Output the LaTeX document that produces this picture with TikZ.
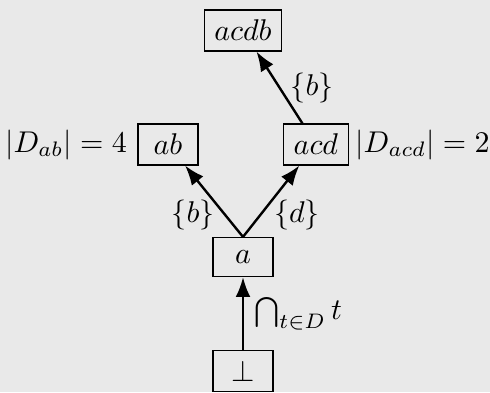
\documentclass[tikz,border=0pt]{standalone}
\usepackage{amsmath,amssymb}
\usetikzlibrary{arrows.meta,positioning}
\definecolor{bg}{RGB}{233,233,233}

\begin{document}
\begin{tikzpicture}[x=1pt,y=1pt,>=Latex,v/.style={draw,minimum width=20pt,minimum height=13pt},e/.style={->,thick}]
\useasboundingbox[fill=bg] (0,0) rectangle (163.33,130.67);
\node[v] (bot) at (81,7) {$\bot$};\node[v] (a) at (81,45) {$a$};
\node[v] (ab) at (56,82.5) {$ab$};\node[v] (acd) at (105.3,82.5) {$acd$};
\node[v] (acdb) at (81,120.5) {$acdb$};
\draw[e] (bot)--node[right]{$\bigcap_{t\in D} t$}(a);
\draw[e] (a.north)--node[pos=0.3,left]{$\{b\}$}(ab);\draw[e] (a.north)--node[pos=0.3,right,xshift=1pt]{$\{d\}$}(acd);
\draw[e] (acd)--node[midway,right]{$\{b\}$}(acdb);
\node[left=0pt of ab] (lab) {$|D_{ab}|=4$};\node[right=2pt of acd,inner sep=0pt] (lacd) {$|D_{acd}|=2$};
\end{tikzpicture}
\end{document}
